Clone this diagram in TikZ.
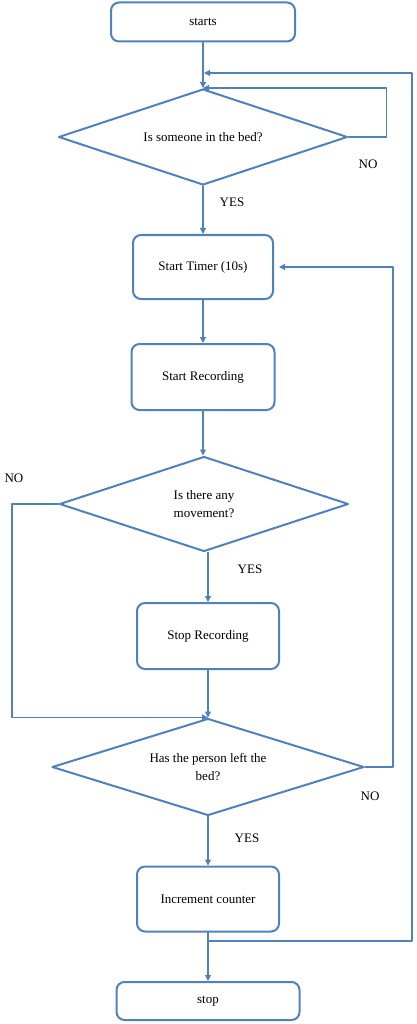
\documentclass[tikz,border=0pt]{standalone}
\usepackage{fontspec}
\setmainfont{Liberation Serif}
\usetikzlibrary{shapes.geometric,arrows.meta}
\definecolor{flowblue}{RGB}{79,129,189}
\begin{document}
\begin{tikzpicture}[x=1pt,y=-1pt,line cap=round,line join=round,
  font=\fontsize{13}{18}\selectfont,
  stepbox/.style={draw=flowblue,line width=2pt,rounded corners=8pt,inner sep=0pt,align=center},
  query/.style={draw=flowblue,line width=2pt,diamond,aspect=3,inner sep=0pt,align=center},
  flow/.style={draw=flowblue,line width=1.1pt,-{Triangle[length=6pt,width=6pt]}},
  tag/.style={inner sep=0pt}]
  \useasboundingbox (0,0) rectangle (417,1024);
  % boxes and questions
  \node[stepbox,minimum width=184pt,minimum height=39pt] (start) at (203,22) {starts};
  \node[query,minimum width=289pt,minimum height=96pt] (dbed) at (203,137) {Is someone in the bed?};
  \node[stepbox,minimum width=140pt,minimum height=64pt] (timer) at (203,267) {Start Timer (10s)};
  \node[stepbox,minimum width=143pt,minimum height=66pt] (rec) at (203,377) {Start Recording};
  \node[query,minimum width=289pt,minimum height=95pt] (dmove) at (204,504) {Is there any\\movement?};
  \node[stepbox,minimum width=142pt,minimum height=66pt] (stoprec) at (208,636) {Stop Recording};
  \node[query,minimum width=312pt,minimum height=97pt] (dleft) at (208,767) {Has the person left the\\bed?};
  \node[stepbox,minimum width=142pt,minimum height=65pt] (inc) at (208,899) {Increment counter};
  \node[stepbox,minimum width=183pt,minimum height=38pt] (stop) at (208,1001) {stop};
  % main flow
  \draw[flow] (start) -- (dbed);
  \draw[flow] (dbed) -- (timer);
  \draw[flow] (timer) -- (rec);
  \draw[flow] (rec.south) -- (rec.south |- dmove.north);
  \draw[flow] (dmove.south -| stoprec) -- (stoprec);
  \draw[flow] (stoprec) -- (dleft);
  \draw[flow] (dleft) -- (inc);
  \draw[flow] (inc) -- (stop);
  % loops back
  \coordinate (merge) at (204,73);
  \coordinate (fork) at (208,941);
  \draw[flow] (dbed.east) -- ++(38,0) |- (dbed.north);
  \draw[flow] (dmove.west) -- (12,504) |- (dleft.north);
  \draw[flow,shorten >=5pt] (dleft.east) -- ++(28,0) |- (timer.east);
  \draw[flow] (fork) -- (412,941) |- (merge);
  % labels
  \node[tag] (nobed) at (368,164) {NO};
  \node[tag] (yesbed) at (232,202) {YES};
  \node[tag] (nomove) at (14,478) {NO};
  \node[tag] (yesmove) at (250,569) {YES};
  \node[tag] (noleft) at (370,796) {NO};
  \node[tag] (yesleft) at (247,838) {YES};
\end{tikzpicture}
\end{document}
